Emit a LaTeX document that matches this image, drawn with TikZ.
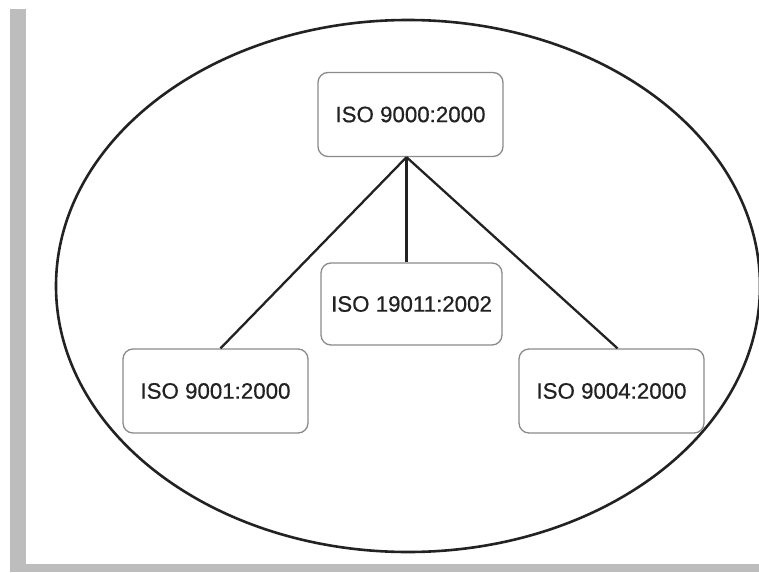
\documentclass[tikz,border=0pt]{standalone}
\usepackage{fontspec}
\setmainfont{Liberation Sans}
\definecolor{barGray}{HTML}{BDBDBD}
\definecolor{boxEdge}{HTML}{8A8A8A}
\definecolor{inkDark}{HTML}{222222}
\begin{document}
\begin{tikzpicture}[x=1pt,y=-1pt,
  stdbox/.style={draw=boxEdge, line width=1.3pt, rounded corners=10pt, fill=white,
    minimum width=185pt, minimum height=84pt, inner sep=0pt,
    text=inkDark, font=\fontsize{22.3}{26}\selectfont\addfontfeatures{FakeBold=0.6}},
  link/.style={draw=inkDark, line width=2.3pt},
  frame/.style={fill=barGray, draw=none}]
  \useasboundingbox (0,0) rectangle (759,572);
  \clip (0,0) rectangle (759,572);
  % page frame bars
  \fill[frame] (10,9) rectangle (26,572);
  \fill[frame] (10,564) rectangle (759,572);
  % enclosing ellipse
  \draw[inkDark, line width=2.6pt] (408,286) ellipse [x radius=352, y radius=266];
  % standards
  \node[stdbox] (top) at (410.5,114.5) {ISO 9000:2000};
  \node[stdbox, minimum width=181pt, minimum height=82pt] (mid) at (411.5,304) {ISO 19011:2002};
  \node[stdbox] (left) at (215.5,391) {ISO 9001:2000};
  \node[stdbox] (right) at (611.5,391) {ISO 9004:2000};
  % connectors from the family head
  \coordinate (hub) at ([xshift=-4pt]top.south);
  \draw[link] (hub) -- ([xshift=-5pt]mid.north);
  \draw[link] (hub) -- ([xshift=5pt]left.north);
  \draw[link] (hub) -- ([xshift=6pt]right.north);
\end{tikzpicture}
\end{document}
